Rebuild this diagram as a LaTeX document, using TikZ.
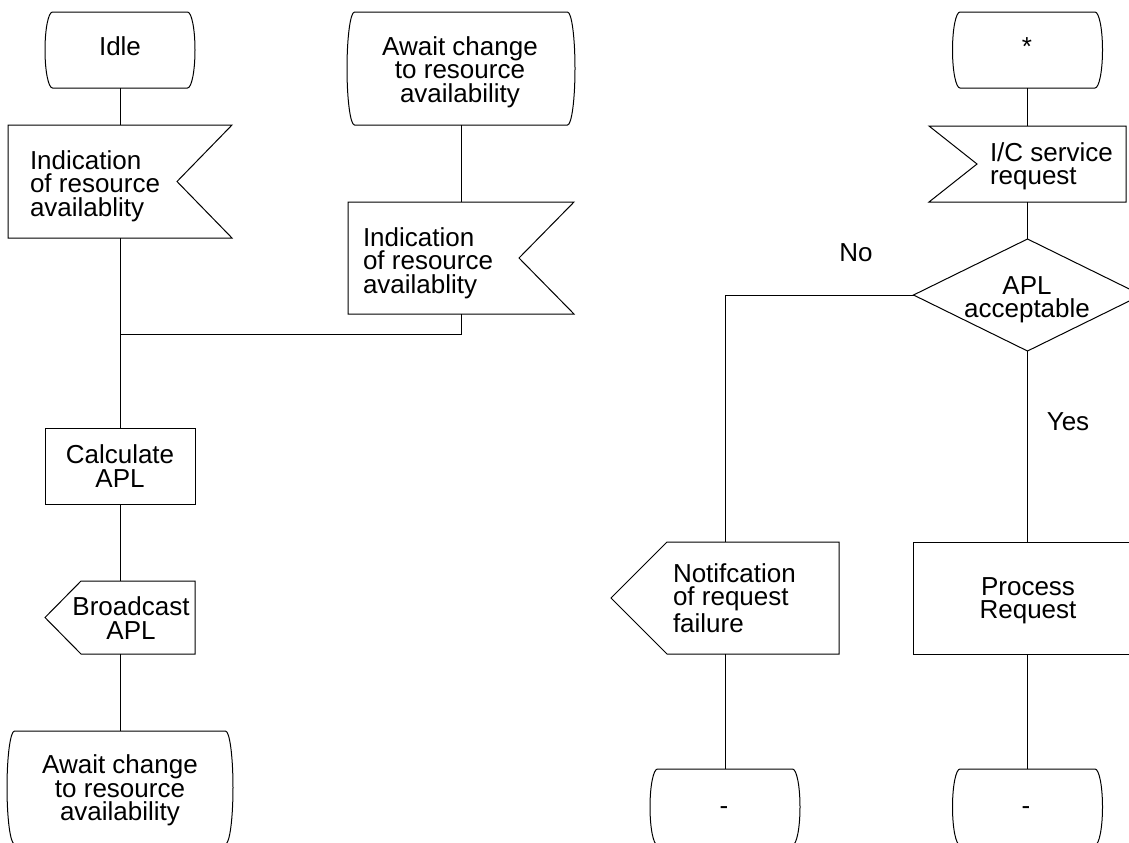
\documentclass[tikz,border=0pt]{standalone}
\usepackage{fontspec}
\setmainfont{Liberation Sans}
\usetikzlibrary{shapes.geometric}
% SDL state symbol: straight top/bottom, slightly bulging sides
\newcommand\sdlstateoutline[2]{%
  \draw[outline] (#1.north) -- ([xshift=-3.75pt]#1.north east)
   .. controls ([xshift=-1.68pt]#1.north east) and ([yshift=#2]#1.east) .. (#1.east)
   .. controls ([yshift=-#2]#1.east) and ([xshift=-1.68pt]#1.south east) .. ([xshift=-3.75pt]#1.south east)
   -- ([xshift=3.75pt]#1.south west)
   .. controls ([xshift=1.68pt]#1.south west) and ([yshift=-#2]#1.west) .. (#1.west)
   .. controls ([yshift=#2]#1.west) and ([xshift=1.68pt]#1.north west) .. ([xshift=3.75pt]#1.north west)
   -- cycle;}
% input symbol, notch on the right
\newcommand\sdlinputR[2]{%
  \draw[outline] (#1.north west) -- (#1.north east) -- ([xshift=-#2]#1.east)
   -- (#1.south east) -- (#1.south west) -- cycle;}
% input symbol, notch on the left
\newcommand\sdlinputL[2]{%
  \draw[outline] (#1.north west) -- ([xshift=#2]#1.west) -- (#1.south west)
   -- (#1.south east) -- (#1.north east) -- cycle;}
% output symbol, point on the left
\newcommand\sdloutputL[2]{%
  \draw[outline] ([xshift=#2]#1.north west) -- (#1.north east) -- (#1.south east)
   -- ([xshift=#2]#1.south west) -- (#1.west) -- cycle;}
\begin{document}
\begin{tikzpicture}[x=0.5pt,y=-0.5pt,
  shp/.style={rectangle, inner sep=0pt, outer sep=0pt},
  boxed/.style={shp, draw, line width=0.5pt},
  txt/.style={inner sep=0pt, outer sep=0pt, font=\fontsize{13pt}{11.7pt}\selectfont},
  wire/.style={line width=0.5pt},
  outline/.style={line width=0.5pt}]
\useasboundingbox (0,0) rectangle (1129,842);
\clip (0,0) rectangle (1129,842);

% ---- shape nodes ----
\node[shp, minimum width=75pt, minimum height=38pt] (idle) at (120,50) {};
\node[shp, minimum width=112pt, minimum height=56.5pt] (ind1) at (120,181.5) {};
\node[shp, minimum width=114pt, minimum height=56.5pt] (await1) at (461,68.5) {};
\node[shp, minimum width=113pt, minimum height=56pt] (ind2) at (461,258) {};
\node[boxed, minimum width=75pt, minimum height=38pt] (calc) at (120,466) {};
\node[shp, minimum width=75pt, minimum height=36.5pt] (bcast) at (120,617.5) {};
\node[shp, minimum width=113pt, minimum height=56.5pt] (await2) at (120,787.5) {};

\node[shp, minimum width=75pt, minimum height=38pt] (star) at (1027.5,50) {};
\node[shp, minimum width=98.5pt, minimum height=38pt] (ic) at (1027.5,164) {};
\node[draw, diamond, inner sep=0pt, outer sep=0pt, minimum width=114pt, minimum height=56pt, line width=0.5pt] (dec) at (1027.5,295) {};
\node[boxed, minimum width=114pt, minimum height=56pt] (proc) at (1027.5,598) {};
\node[shp, minimum width=114pt, minimum height=56pt] (notif) at (725,598) {};
\node[shp, minimum width=75pt, minimum height=38pt] (dash1) at (725,807) {};
\node[shp, minimum width=75pt, minimum height=38pt] (dash2) at (1027.5,807) {};

% ---- outlines ----
\sdlstateoutline{idle}{10.5pt}
\sdlstateoutline{await1}{15.6pt}
\sdlstateoutline{await2}{15.6pt}
\sdlstateoutline{star}{10.5pt}
\sdlstateoutline{dash1}{10.5pt}
\sdlstateoutline{dash2}{10.5pt}
\sdlinputR{ind1}{27.5pt}
\sdlinputR{ind2}{27.5pt}
\sdlinputL{ic}{24pt}
\sdloutputL{bcast}{18pt}
\sdloutputL{notif}{28pt}

% ---- texts ----
\node[txt, anchor=base] (tidle) at (120,55) {Idle};
\node[txt, align=left, anchor=west] (tind1) at (30,186) {Indication\\of resource\\availablity};
\node[txt, align=center] (tawait1) at (460,72) {Await change\\to resource\\availability};
\node[txt, align=left, anchor=west] (tind2) at (363,263) {Indication\\of resource\\availablity};
\node[txt, align=center] (tcalc) at (120,466) {Calculate\\APL};
\node[txt, align=center] (tbcast) at (131,618) {Broadcast\\APL};
\node[txt, align=center] (tawait2) at (120,790.5) {Await change\\to resource\\availability};
\node[txt, anchor=base] (tstar) at (1027,55) {*};
\node[txt, align=left, anchor=west] (tic) at (990,166) {I/C service\\request};
\node[txt, align=center] (tapl) at (1027,300) {APL\\acceptable};
\node[txt, align=left, anchor=west] (tnotif) at (673,598) {Notifcation\\of request\\failure};
\node[txt, align=center] (tproc) at (1028,601) {Process\\Request};
\node[txt, anchor=base] (tdash1) at (724,814) {-};
\node[txt, anchor=base] (tdash2) at (1026,814) {-};
\node[txt, anchor=base] (tno) at (856,261) {No};
\node[txt, anchor=base] (tyes) at (1068,430) {Yes};

% ---- connectors ----
\coordinate (join) at (120,334);
\draw[wire] (idle.south) -- (ind1.north);
\draw[wire] (await1.south) -- (ind2.north);
\draw[wire] (ind1.south) -- (calc.north);
\draw[wire] (ind2.south) |- (join);
\draw[wire] (calc.south) -- (bcast.north);
\draw[wire] (bcast.south) -- (await2.north);
\draw[wire] (star.south) -- (ic.north);
\draw[wire] (ic.south) -- (dec.north);
\draw[wire] (dec.west) -| (notif.north);
\draw[wire] (dec.south) -- (proc.north);
\draw[wire] (notif.south) -- (dash1.north);
\draw[wire] (proc.south) -- (dash2.north);
\end{tikzpicture}
\end{document}
